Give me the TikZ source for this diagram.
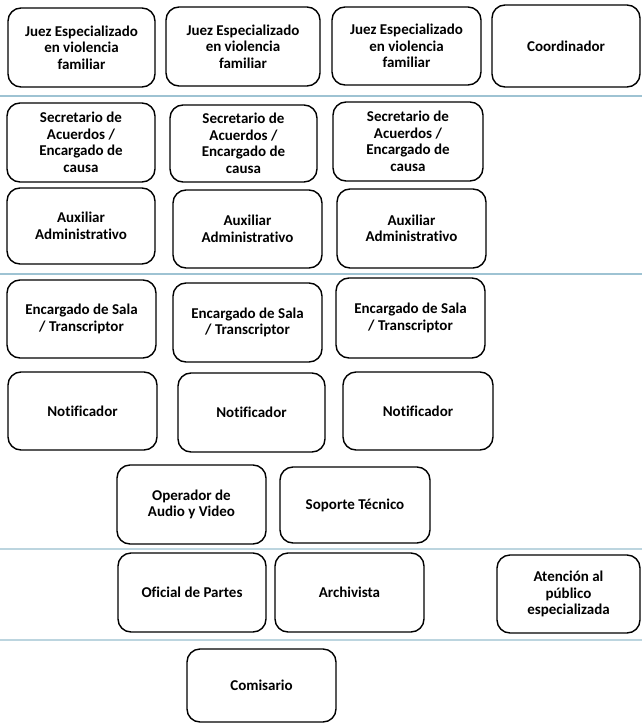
\documentclass[tikz,border=0pt]{standalone}
\usepackage{fontspec}
\setmainfont{Carlito}[Ligatures=NoCommon]
\definecolor{sepA}{RGB}{158,195,211}
\definecolor{sepB}{RGB}{188,213,223}
\tikzset{
  box/.style={draw=black, line width=1.4pt, rounded corners=13pt, align=center,
    inner sep=0pt, font=\fontsize{15pt}{16.5pt}\selectfont\bfseries},
  sepline/.style={line width=1.4pt},
}
\newcommand{\bx}[6]{\node[box, minimum width=#4pt, minimum height=#5pt] (#1) at (#2,#3) {#6};}
\begin{document}
\begin{tikzpicture}[x=1pt,y=-1pt]
\useasboundingbox (0,0) rectangle (642,725);
% separator lines
\draw[sepline, sepA] (0,96) -- (642,96);
\draw[sepline, sepA] (0,274) -- (642,274);
\draw[sepline, sepB] (0,549) -- (642,549);
\draw[sepline, sepB] (0,640) -- (642,640);
% row 1
\bx{j1}{81.5}{47.5}{147}{79}{Juez Especializado\\en violencia\\familiar}
\bx{j2}{243}{46.5}{154}{79}{Juez Especializado\\en violencia\\familiar}
\bx{j3}{406.5}{46}{149}{78}{Juez Especializado\\en violencia\\familiar}
\bx{co}{566}{46}{148}{82}{Coordinador}
% row 2
\bx{s1}{81}{142.5}{148}{79}{Secretario de\\Acuerdos /\\Encargado de\\causa}
\bx{s2}{243.5}{143.5}{147}{77}{Secretario de\\Acuerdos /\\Encargado de\\causa}
\bx{s3}{408}{141.5}{150}{79}{Secretario de\\Acuerdos /\\Encargado de\\causa}
% row 3
\bx{a1}{81}{226}{148}{76}{Auxiliar\\Administrativo}
\bx{a2}{247.5}{229}{149}{78}{Auxiliar\\Administrativo}
\bx{a3}{411.5}{228.5}{149}{79}{Auxiliar\\Administrativo}
% row 4
\bx{e1}{81.5}{319}{149}{78}{Encargado de Sala\\/ Transcriptor}
\bx{e2}{247.5}{322.5}{149}{79}{Encargado de Sala\\/ Transcriptor}
\bx{e3}{410.5}{318}{149}{80}{Encargado de Sala\\/ Transcriptor}
% row 5
\bx{n1}{82.5}{411}{149}{78}{Notificador}
\bx{n2}{251.5}{412.5}{147}{79}{Notificador}
\bx{n3}{418}{411}{150}{78}{Notificador}
% row 6
\bx{op}{191.5}{504.5}{149}{79}{Operador de\\Audio y Video}
\bx{sp}{355}{505}{150}{76}{Soporte Técnico}
% row 7
\bx{of}{192}{592.5}{148}{79}{Oficial de Partes}
\bx{ar}{349.5}{592.5}{149}{79}{Archivista}
\bx{at}{568.5}{594}{143}{78}{Atención al\\público\\especializada}
% row 8
\bx{cm}{261.5}{685.5}{149}{73}{Comisario}
\end{tikzpicture}
\end{document}
